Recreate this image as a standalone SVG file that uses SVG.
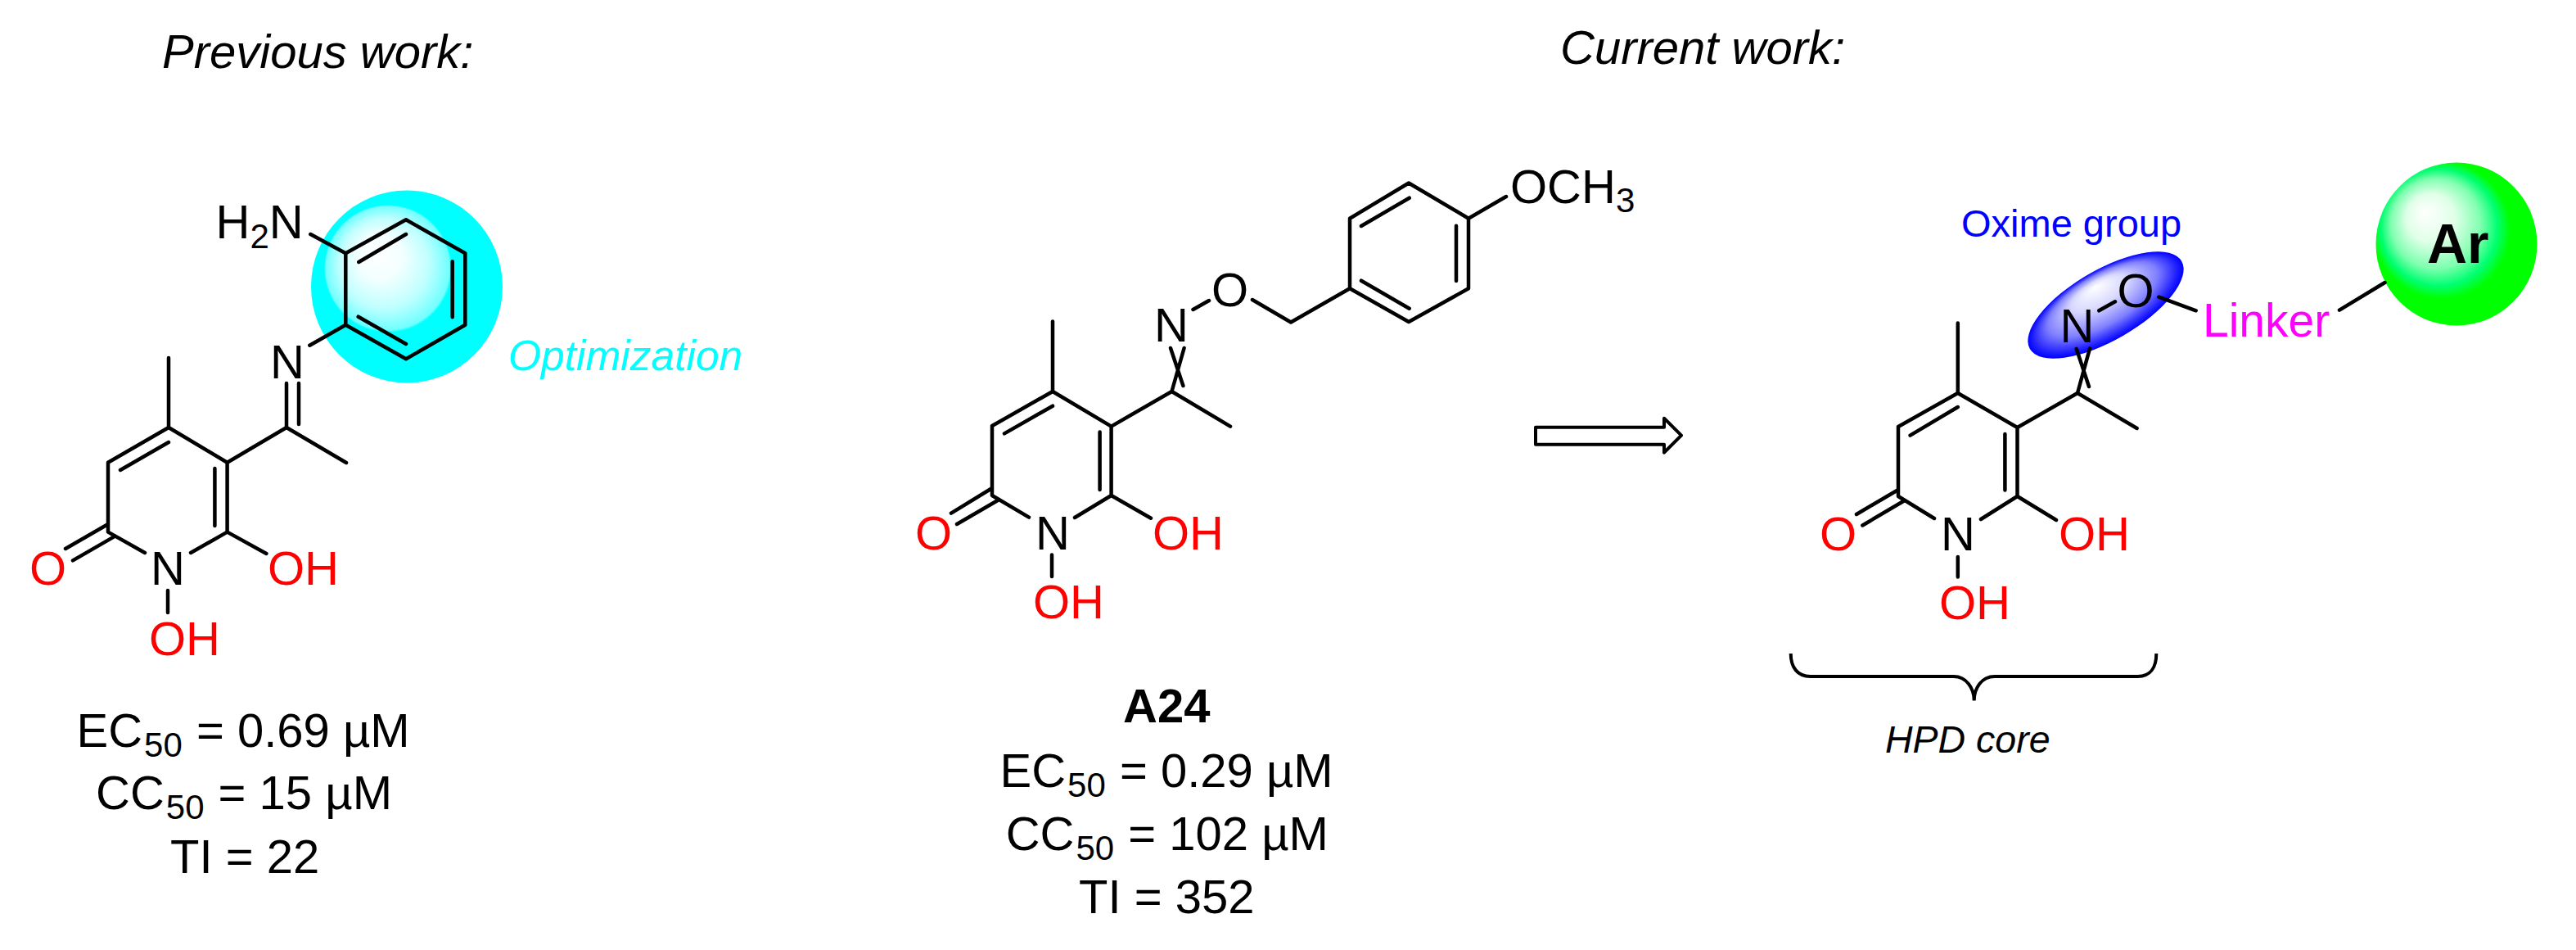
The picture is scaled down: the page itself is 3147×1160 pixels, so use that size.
<svg xmlns="http://www.w3.org/2000/svg" width="3147" height="1160" viewBox="0 0 3147 1160">
<style>
text{font-family:"Liberation Sans",Arial,sans-serif;font-size:58px;fill:#000}
.r{fill:#f00}
.i{font-style:italic}
.b{font-weight:bold}
.s{font-size:42px}
.bond{fill:none;stroke:#000;stroke-width:4.5;stroke-linecap:round;stroke-linejoin:round}
</style>
<defs>
<radialGradient id="cy" gradientUnits="userSpaceOnUse" cx="474" cy="328" r="78" fx="458" fy="306">
<stop offset="0" stop-color="#fff"/><stop offset=".35" stop-color="#f4ffff"/><stop offset=".7" stop-color="#c0ffff"/><stop offset=".97" stop-color="#70ffff"/><stop offset="1" stop-color="#0ff"/>
</radialGradient>
<radialGradient id="gr" gradientUnits="userSpaceOnUse" cx="2983" cy="281" r="84" fx="2962" fy="258">
<stop offset="0" stop-color="#fff"/><stop offset=".35" stop-color="#e0ffe8"/><stop offset=".65" stop-color="#80ffb0"/><stop offset=".85" stop-color="#00ff70"/><stop offset="1" stop-color="#0f0"/>
</radialGradient>
<radialGradient id="bl" cx=".5" cy=".5" r=".5" fx=".5" fy=".2">
<stop offset="0" stop-color="#fff"/><stop offset=".35" stop-color="#d8d8ff"/><stop offset=".7" stop-color="#8080ff"/><stop offset=".92" stop-color="#2020ff"/><stop offset="1" stop-color="#00f"/>
</radialGradient>
</defs>
<rect width="3147" height="1160" fill="#fff"/>
<g id="highlights">
<ellipse id="optimization-sphere" cx="497" cy="350" rx="117" ry="117.500" fill="url(#cy)"/>
<ellipse id="oxime-ellipse" cx="2572.500" cy="372.500" rx="107" ry="43" fill="url(#bl)" transform="rotate(-30 2572.500 372.500)"/>
<ellipse id="ar-sphere" cx="3001" cy="298" rx="98.500" ry="99.500" fill="url(#gr)"/>
</g>
<g id="connectors">
<g id="bonds-previous" class="bond">
<path d="M206 437V522L132 564.700V649.600L177 675M233 675L277.600 649.600V564.700L206 522M277.600 564.700L350 522L423 565M350 522V468M365 468V518M147 574L206 540M262.400 572V642M132 640L80 670M140.600 654.600L89 684.400M277.600 649.600L325.400 676M205 721V748"/>
<path d="M496 268.300L568.300 309.300V396.700L496 438.300L422.300 396.700V309.300ZM438.300 320L496 286M552.700 319.300V387.300M437.700 386.700L496 420M379.300 286L422.300 309.300M378.300 421.700L422.300 396.700"/>
</g>
<g id="bonds-a24" class="bond">
<path d="M1286 392.400V478L1212 520V605L1257 631.600M1313 632L1357.600 605V520.600L1286 478M1357.600 520.600L1431.500 478L1503 520.600M1431.500 478L1446.600 425M1445.400 471L1430 425M1227 529.400L1286 495.700M1343.600 527.500V598M1212 596L1162 626.600M1220.600 610L1169 640M1357.600 605L1406 632.700M1285 677.500V704"/>
<path d="M1457.500 378L1477 367M1530 366L1577 393.500L1649 352.300M1649 352.300V266.700L1721 223.500L1794 266.700V352.300L1721 393ZM1663 276L1721.700 241.700M1779 275.700V343M1663 342.700L1721.700 376.700M1794 266.700L1840 240"/>
</g>
<g id="bonds-current" class="bond">
<path d="M2391.800 394.600V480L2319 521V606L2363 633M2420 634L2464.500 606V522L2391.800 480M2464.500 522L2538 480L2610.600 523M2538 480L2553 425.600M2552 472L2536.700 426M2333.600 531.600L2391.800 497M2449.400 530V598.600M2319 598L2268 628M2327 611L2275.400 641.500M2464.500 606L2512 635M2391.800 680V704.600"/>
<path d="M2564.300 379.300L2584 368.300M2637.300 362.700L2682.700 379.300M2858 378.600L2913.500 345"/>
</g>
<path id="reaction-arrow" d="M1876 521.700H2033V510.700L2054 531.700L2033 552.700V542.700H1876Z" fill="#fff" stroke="#000" stroke-width="4" stroke-linejoin="round"/>
<path id="hpd-brace" d="M2187.700 798C2187.700 815 2196 826 2211.700 826H2386.700C2402 826 2411.700 840 2411.700 855.500C2411.700 840 2421 826 2436.700 826H2611.700C2627 826 2634.300 815 2634.300 798" fill="none" stroke="#000" stroke-width="4"/>
</g>
<g id="title-previous"><text x="198" y="82.700" class="i">Previous work:</text></g>
<g id="title-current"><text x="1906" y="77.700" class="i">Current work:</text></g>
<g id="mol-previous">
<text x="263.500" y="291">H<tspan dy="12" class="s">2</tspan><tspan dy="-12">N</tspan></text>
<text x="330" y="462">N</text>
<text x="36" y="714" class="r">O</text>
<text x="184" y="714">N</text>
<text x="327" y="714" class="r">OH</text>
<text x="182" y="800" class="r">OH</text>
<text x="621" y="451.500" class="i" style="font-size:51.500px;fill:#0ff">Optimization</text>
<text x="93.500" y="911.700">EC<tspan dy="12" dx="2" class="s">50</tspan><tspan dy="-12" dx="1"> = 0.69 µM</tspan></text>
<text x="117" y="988">CC<tspan dy="12" dx="2" class="s">50</tspan><tspan dy="-12" dx="1"> = 15 µM</tspan></text>
<text x="208" y="1066">TI = 22</text>
</g>
<g id="mol-a24">
<text x="1845" y="248">OCH<tspan dy="11" class="s">3</tspan></text>
<text x="1410" y="417">N</text>
<text x="1480" y="374">O</text>
<text x="1118" y="670.600" class="r">O</text>
<text x="1265" y="670.600">N</text>
<text x="1408" y="670.600" class="r">OH</text>
<text x="1262" y="755" class="r">OH</text>
<text x="1372" y="881.700" class="b">A24</text>
<text x="1221.500" y="961">EC<tspan dy="12" dx="2" class="s">50</tspan><tspan dy="-12" dx="1"> = 0.29 µM</tspan></text>
<text x="1228.700" y="1038">CC<tspan dy="12" dx="2" class="s">50</tspan><tspan dy="-12" dx="1"> = 102 µM</tspan></text>
<text x="1318" y="1115">TI = 352</text>
</g>
<g id="mol-current">
<text x="2396" y="288.600" style="font-size:47px;fill:#00f">Oxime group</text>
<text x="2516.600" y="418.300">N</text>
<text x="2586.500" y="375">O</text>
<text x="2691" y="411" style="font-size:57px;fill:#f0f">Linker</text>
<text x="2965" y="321" class="b" style="font-size:68px">Ar</text>
<text x="2223" y="672" class="r">O</text>
<text x="2371" y="672">N</text>
<text x="2515" y="672" class="r">OH</text>
<text x="2369" y="755.500" class="r">OH</text>
<text x="2303" y="919.300" class="i" style="font-size:46.500px">HPD core</text>
</g>
</svg>
